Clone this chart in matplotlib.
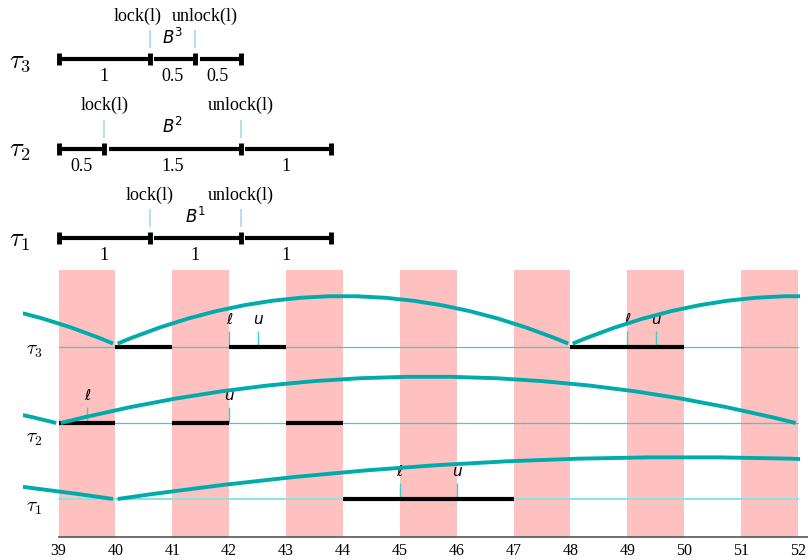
import numpy as np
import matplotlib
matplotlib.use('Agg')
import matplotlib.pyplot as plt
from matplotlib.path import Path
from matplotlib.patches import PathPatch, Rectangle

# Task blocks (top): segment lengths, lock after first, unlock after second
tasks = ['1', '2', '3']
segments = {'1': [1, 1, 1], '2': [0.5, 1.5, 1], '3': [1, 0.5, 0.5]}
seg_labels = {'1': ['1', '1', '1'], '2': ['0.5', '1.5', '1'], '3': ['1', '0.5', '0.5']}

# Schedule (bottom)
t_ticks = list(range(39, 53))
bands = [39, 41, 43, 45, 47, 49, 51]
exec_start = {'1': [44], '2': [39, 41, 43], '3': [40, 42, 48]}
exec_end = {'1': [47], '2': [40, 42, 44], '3': [41, 43, 50]}
lock_times = {'1': [45], '2': [39.5], '3': [42, 49]}
unlock_times = {'1': [46], '2': [42], '3': [42.5, 49.5]}
periods = {'1': 20, '2': 13, '3': 8}
first_release = {'1': 20, '2': 26, '3': 32}
arc_height = {'1': 0.55, '2': 0.61, '3': 0.625}

# colours
teal = '#00abab'
row_col = {'1': '#8ae3e3', '2': '#3fcccc', '3': '#3fcccc'}
row_lw = {'1': 1.4, '2': 0.9, '3': 0.9}
lock_col = '#a6d8f0'
pink = '#ffc0c0'

W, H = 808, 560
fig = plt.figure(figsize=(W / 100, H / 100), dpi=100)

# ---------------- top: task structures ----------------
ax_top = fig.add_axes([0, 1 - 270 / H, 1, 270 / H])
ux, uy = 90.8, 89.5
ax_top.set_xlim(-59 / ux, (W - 59) / ux)
ax_top.set_ylim(1 - 32 / uy, 3 + 59 / uy)
ax_top.axis('off')

lock_nudge = {'1': (0, 0), '2': (0, 0), '3': (-9, 7)}
serif = 'Liberation Serif'

for k in tasks:
    y = int(k)
    b = np.concatenate([[0], np.cumsum(segments[k])])
    for i in range(len(segments[k])):
        gap = 0.05 if i > 0 else 0
        ax_top.plot([b[i] + gap, b[i + 1]], [y, y], color='black', lw=3,
                    solid_capstyle='butt')
        ax_top.text((b[i] + b[i + 1]) / 2, y - 0.2, seg_labels[k][i], ha='center',
                    va='center', fontsize=13, family=serif)
    ax_top.plot(b, [y] * len(b), ls='none', marker='|', ms=8, mew=3.5, color='black')
    # lock / unlock marks
    ax_top.vlines([b[1], b[2]], y + 0.12, y + 0.32, color=lock_col, lw=1.2)
    dl, du = lock_nudge[k]
    ax_top.annotate('lock(l)', (b[1], y + 0.48), xytext=(dl, 0), textcoords='offset points',
                    ha='center', va='center', fontsize=13, family=serif)
    ax_top.annotate('unlock(l)', (b[2], y + 0.48), xytext=(du, 0), textcoords='offset points',
                    ha='center', va='center', fontsize=13, family=serif)
    ax_top.text((b[1] + b[2]) / 2, y + 0.24, '$B^{' + k + '}$', math_fontfamily='dejavusans',
                ha='center', va='center', fontsize=12)
    ax_top.text(-0.43, y - 0.02, r'$\tau_\mathsf{' + k + '}$', math_fontfamily='cm',
                ha='center', va='center', fontsize=19)

# ---------------- bottom: schedule ----------------
ax = fig.add_axes([0, 0, 1, 290 / H])
sx, sy = 56.88, 76
x_left, x_right = 39 - 58.5 / sx, 52 + 10 / sx
y_bot, y_top = 1 - 61 / sy, 3 + 77 / sy
ax.set_xlim(x_left, x_right)
ax.set_ylim(y_bot, y_top)
base = 0.5

ax.bar(bands, y_top - base, bottom=base, width=1, align='edge', color=pink, lw=0, zorder=0)

for s in ['left', 'right', 'top']:
    ax.spines[s].set_visible(False)
ax.spines['bottom'].set_position(('data', base))
ax.spines['bottom'].set_bounds(39, x_right)
ax.spines['bottom'].set_color('#555555')
ax.spines['bottom'].set_linewidth(1.2)
ax.set_xticks(t_ticks)
ax.set_xticklabels([str(t) for t in t_ticks], family=serif, fontsize=11.5)
ax.tick_params(axis='x', length=0, pad=4)
ax.set_yticks([])

clip = Rectangle((38.38, y_bot), 52.03 - 38.38, y_top - y_bot, transform=ax.transData)
label_dy = {'1': -0.11, '2': -0.2, '3': -0.04}

for k in tasks:
    y = int(k)
    ax.plot([39, 52], [y, y], color=row_col[k], lw=row_lw[k], zorder=1)
    for s, e in zip(exec_start[k], exec_end[k]):
        ax.plot([s, e], [y, y], color='black', lw=3, solid_capstyle='butt', zorder=3)
    for t in lock_times[k]:
        ax.vlines(t, y, y + 0.21, color='#3fcccc', lw=1, zorder=2)
        ax.text(t, y + 0.36, 'ℓ', style='italic', ha='center', va='center', fontsize=11)
    for t in unlock_times[k]:
        ax.vlines(t, y, y + 0.21, color='#3fcccc', lw=1, zorder=2)
        ax.text(t, y + 0.36, 'u', style='italic', ha='center', va='center', fontsize=11)
    # period arcs between releases
    r = first_release[k]
    P = periods[k]
    y0 = y + (0.045 if k == '3' else 0)
    while r < 52:
        a, c = r + 0.04, r + P - 0.04
        path = Path([(a, y0), ((a + c) / 2, y0 + 2 * arc_height[k]), (c, y0)],
                    [Path.MOVETO, Path.CURVE3, Path.CURVE3])
        patch = PathPatch(path, fill=False, edgecolor=teal, lw=2.8, zorder=4)
        ax.add_patch(patch)
        patch.set_clip_path(clip)
        r += P
    ax.text(38.57, y + label_dy[k], r'$\tau_\mathsf{' + k + '}$', math_fontfamily='cm',
            ha='center', va='center', fontsize=14)

fig.savefig('out.png', dpi=100)
